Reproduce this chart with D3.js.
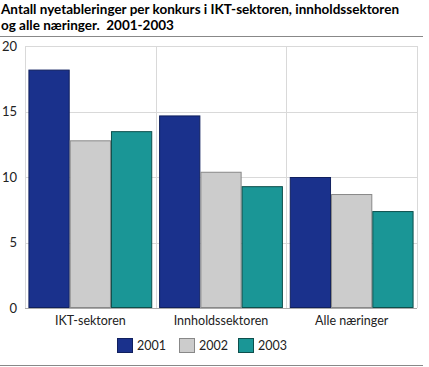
<!DOCTYPE html>
<html><head><meta charset="utf-8">
<script src="https://cdn.jsdelivr.net/npm/d3@7"></script>
<style>body{margin:0;background:#fff}svg{display:block}text{font-family:Lato,sans-serif;white-space:pre}</style>
</head><body><svg id="c" width="429" height="367"></svg>
<script>
const categories = ["IKT-sektoren","Innholdssektoren","Alle næringer"];
const years = ["2001","2002","2003"];
const v2001 = [18.2, 14.7, 10.0];
const v2002 = [12.8, 10.4, 8.7];
const v2003 = [13.5, 9.3, 7.4];
const yTicks = [0,5,10,15,20];
const colors = ["#1a318c","#cccccc","#1a9696"];
const strokes = ["#10205e","#888888","#0d4f4c"];
const series = [v2001,v2002,v2003];

const svg = d3.select("#c");
const L=25,R=417,T=46,B=308;
const x = d3.scaleBand().domain(categories).range([L,R]).paddingInner(0).paddingOuter(0);
const x1 = d3.scaleBand().domain(years).range([0,x.bandwidth()]).paddingOuter(0.083).paddingInner(0);
const y = d3.scaleLinear().domain([0,20]).range([B,T]);

// title
const title = svg.append("text").attr("font-weight","bold").attr("font-size",13.5).attr("fill","#000");
const t1 = title.append("tspan").attr("x",1).attr("y",14).text("Antall nyetableringer per konkurs i IKT-sektoren, innholdssektoren");
title.append("tspan").attr("x",1).attr("y",30).text("og alle næringer.  2001-2003");
const w = t1.node().getComputedTextLength();
if (w > 417) title.attr("font-size", 13.5*417/w);
svg.append("line").attr("x1",0).attr("x2",423).attr("y1",36.5).attr("y2",36.5).attr("stroke","#888").attr("stroke-width",1);

// grid
svg.append("g").selectAll("line").data(yTicks).join("line")
  .attr("x1",L).attr("x2",R).attr("y1",d=>Math.round(y(d))+0.5).attr("y2",d=>Math.round(y(d))+0.5)
  .attr("stroke",d=>d===0?"#aaa":"#d9d9d9");
const vx = [L, ...categories.slice(1).map(c=>x(c)), R];
svg.append("g").selectAll("line").data(vx).join("line")
  .attr("x1",d=>Math.round(d)+0.5).attr("x2",d=>Math.round(d)+0.5).attr("y1",T).attr("y2",B)
  .attr("stroke","#d9d9d9");

// y axis labels
const yAxis = d3.axisLeft(y).tickValues(yTicks).tickSize(0).tickPadding(8);
const ga = svg.append("g").attr("transform",`translate(${L},0)`).call(yAxis);
ga.select(".domain").remove();
ga.selectAll("text").attr("font-size",13).attr("fill","#222").style("font-family","Lato,sans-serif");

// bars
categories.forEach((c,i)=>{
  years.forEach((yr,j)=>{
    const val = series[j][i];
    svg.append("rect")
      .attr("x",x(c)+x1(yr)+0.5).attr("y",y(val)+0.5)
      .attr("width",x1.bandwidth()-1).attr("height",y(0)-y(val)-1)
      .attr("fill",colors[j]).attr("stroke",strokes[j]).attr("stroke-width",1);
  });
});

// x axis labels
const xAxis = d3.axisBottom(x).tickSize(0).tickPadding(8);
const gx = svg.append("g").attr("transform",`translate(0,${B})`).call(xAxis);
gx.select(".domain").remove();
gx.selectAll("text").attr("font-size",12.5).attr("fill","#222").style("font-family","Lato,sans-serif");

// legend
const lx = [117,179,238];
years.forEach((yr,j)=>{
  svg.append("rect").attr("x",lx[j]+0.5).attr("y",338.5).attr("width",15).attr("height",14)
    .attr("fill",colors[j]).attr("stroke",strokes[j]);
  svg.append("text").attr("x",lx[j]+20).attr("y",350).attr("font-size",12.5).attr("fill","#222").text(yr);
});
svg.append("line").attr("x1",0).attr("x2",423).attr("y1",365.5).attr("y2",365.5).attr("stroke","#888");
</script></body></html>
